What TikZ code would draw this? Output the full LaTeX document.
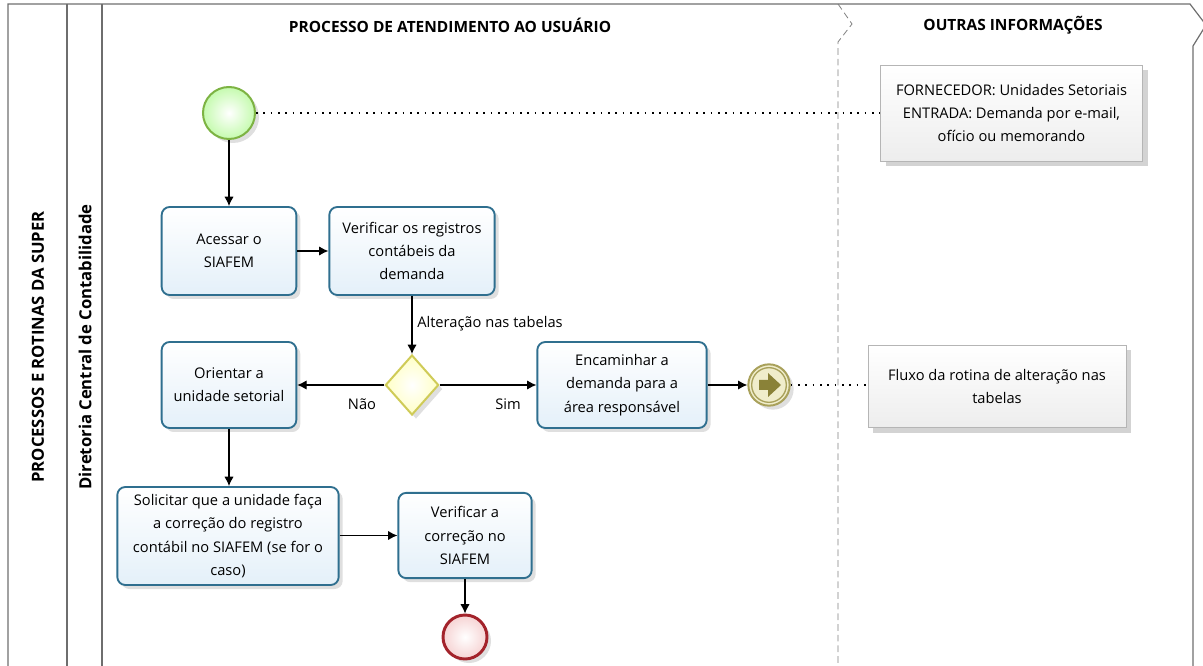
\documentclass[tikz,border=0pt]{standalone}
\usepackage{fontspec}
\setmainfont{Open Sans}
\usetikzlibrary{shapes.geometric,shadows,arrows.meta}
\definecolor{taskborder}{HTML}{2F6F8F}
\definecolor{taskfill}{HTML}{E4F0F9}
\definecolor{startborder}{HTML}{7DB343}
\definecolor{startfill}{HTML}{EEF9CF}
\definecolor{endborder}{HTML}{A3232B}
\definecolor{endfill}{HTML}{F6D3D3}
\definecolor{gwborder}{HTML}{CFCB57}
\definecolor{gwfill}{HTML}{FFFFE3}
\definecolor{midborder}{HTML}{A9A15B}
\definecolor{midfill}{HTML}{F0EDCB}
\definecolor{midarrow}{HTML}{8A8238}
\definecolor{noteborder}{HTML}{B5B5B5}
\definecolor{notefill}{HTML}{EDEDED}
\definecolor{laneline}{HTML}{6E6E6E}
\tikzset{
  every node/.style={font=\fontsize{11}{17.5}\selectfont, align=center, inner sep=0pt},
  shade/.style={drop shadow={opacity=0.25, shadow xshift=3pt, shadow yshift=-3pt}},
  taskbox/.style={draw=taskborder, line width=1.4pt, rounded corners=6pt,
    top color=white, bottom color=taskfill, shade},
  notebox/.style={draw=noteborder, line width=0.6pt, top color=white, bottom color=notefill,
    drop shadow={opacity=0.35, shadow xshift=4pt, shadow yshift=-4pt}},
  flow/.style={-{Latex[length=7pt,width=7pt]}, line width=0.9pt, black},
  assoc/.style={line width=1.3pt, dash pattern=on 1.3pt off 4.2pt, black},
  hdr/.style={font=\fontsize{11.6}{14}\selectfont\bfseries},
  lanehdr/.style={font=\fontsize{12.5}{15}\selectfont\bfseries},
  lbl/.style={font=\fontsize{11}{14}\selectfont},
}
\begin{document}
\begin{tikzpicture}[x=0.75pt,y=-0.75pt]
\useasboundingbox (0,0) rectangle (1203,666);
% lanes
\draw[laneline, line width=0.9pt] (8,666) -- (8,4) -- (1190,4) -- (1206,25) -- (1193,46) -- (1193,666);
\draw[laneline, line width=0.9pt] (67,4) -- (67,666);
\draw[laneline, line width=0.9pt] (102,4) -- (102,666);
\draw[gray, line width=0.6pt, dash pattern=on 5pt off 3pt] (838,4) -- (852,24) -- (838,42) -- (838,666);
\node[hdr] (h1) at (450,25) {PROCESSO DE ATENDIMENTO AO USUÁRIO};
\node[hdr] (h2) at (1013,25) {OUTRAS INFORMAÇÕES};
\node[lanehdr, rotate=90] (l1) at (38,347) {PROCESSOS E ROTINAS DA SUPER};
\node[lanehdr, rotate=90] (l2) at (85,347) {Diretoria Central de Contabilidade};
% events
\node[circle, draw=startborder, line width=1.5pt, inner color=white, outer color=startfill!80!green!90!white,
  minimum size=39pt, shade] (start) at (229,113) {};
\node[circle, draw=endborder, line width=2.2pt, inner color=white, outer color=endfill,
  minimum size=33pt, shade] (end) at (465,637) {};
\node[circle, draw=midborder, line width=1.5pt, fill=midfill, minimum size=31pt, shade] (mid) at (769,385) {};
\node[circle, draw=midborder, line width=1pt, minimum size=26pt] (midin) at (769,385) {};
\fill[midarrow] (759,380) -- (768,380) -- (768,373) -- (781,385) -- (768,397) -- (768,390) -- (759,390) -- cycle;
% tasks
\node[taskbox, minimum width=101pt, minimum height=66pt] (acessar) at (229,251) {Acessar o\\SIAFEM};
\node[taskbox, minimum width=124pt, minimum height=66pt] (verreg) at (412,251) {Verificar os registros\\contábeis da\\demanda};
\node[taskbox, minimum width=101pt, minimum height=64.5pt] (orientar) at (229,385) {Orientar a\\unidade setorial};
\node[taskbox, minimum width=127pt, minimum height=64.5pt] (encaminhar) at (622,385) {Encaminhar a\\demanda para a\\área responsável};
\node[taskbox, minimum width=166pt, minimum height=73.5pt] (solicitar) at (228,536) {Solicitar que a unidade faça\\a correção do registro\\contábil no SIAFEM (se for o\\caso)};
\node[taskbox, minimum width=100pt, minimum height=64pt] (vercor) at (465,535.5) {Verificar a\\correção no\\SIAFEM};
% gateway
\node[diamond, draw=gwborder, line width=1.5pt, inner color=white, outer color=gwfill!70!yellow!60!white,
  minimum width=40pt, minimum height=45pt, shade] (gw) at (412,385) {};
% notes
\node[notebox, minimum width=197pt, minimum height=72pt] (forn) at (1011.5,113) {FORNECEDOR: Unidades Setoriais\\ENTRADA: Demanda por e-mail,\\ofício ou memorando};
\node[notebox, minimum width=193.5pt, minimum height=62pt] (fluxo) at (997,386.5) {Fluxo da rotina de alteração nas\\tabelas};
% flows
\draw[flow] (start) -- (acessar);
\draw[flow] (acessar) -- (verreg);
\draw[flow] (verreg) -- (gw);
\draw[flow] (gw) -- (orientar);
\draw[flow] (gw) -- (encaminhar);
\draw[flow] (encaminhar) -- (mid);
\draw[flow] (orientar) -- (solicitar.north -| orientar);
\draw[flow] (solicitar.east |- vercor) -- (vercor);
\draw[flow] (vercor) -- (end);
% associations
\draw[assoc] (start) -- (forn);
\draw[assoc] (mid) -- (fluxo.west |- mid);
% labels
\node[lbl, anchor=west] (lalt) at (417,324) {Alteração nas tabelas};
\node[lbl] (lnao) at (362,404) {Não};
\node[lbl] (lsim) at (508,404) {Sim};
\end{tikzpicture}
\end{document}
